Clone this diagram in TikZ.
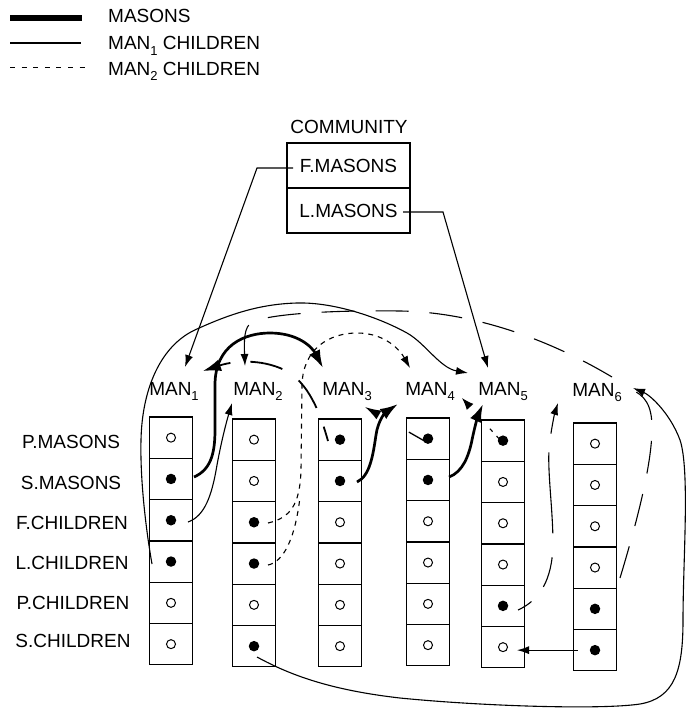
\documentclass[tikz,border=0pt]{standalone}
\usepackage{fontspec}
\setmainfont{Liberation Sans}
\usetikzlibrary{arrows.meta}
\newcommand\subdig[1]{\raisebox{-0.28em}{\fontsize{13}{13}\selectfont #1}}
\begin{document}
\begin{tikzpicture}[x=1pt,y=-1pt,
 lbl/.style={font=\fontsize{19}{22}\selectfont, inner sep=0pt},
 cell/.style={draw, line width=1.2pt, minimum width=43pt, minimum height=41.3pt, inner sep=0pt},
 fdot/.style={circle, fill=black, minimum size=10.5pt, inner sep=0pt},
 odot/.style={circle, draw, line width=1pt, minimum size=9pt, inner sep=0pt},
 cbox/.style={draw, line width=1.2pt, minimum width=123pt, minimum height=45pt, inner sep=0pt, font=\fontsize{19}{22}\selectfont},
 kidA/.style={line width=1.1pt},
 kidB/.style={line width=1.1pt, dash pattern=on 5pt off 5pt},
 mason/.style={line width=2.7pt},
 ldash/.style={line width=1.1pt, dash pattern=on 33pt off 21pt},
 tipS/.style={-{Latex[length=12pt,width=8pt]}},
 tipL/.style={-{Latex[length=18pt,width=12pt]}},
]
\useasboundingbox (0,0) rectangle (686,709);

% legend
\coordinate (lg1a) at (10,18); \coordinate (lg1b) at (82,18);
\coordinate (lg2a) at (10,43); \coordinate (lg2b) at (81,43);
\coordinate (lg3a) at (10,68); \coordinate (lg3b) at (86,68);
\draw[line width=6pt] (lg1a) -- (lg1b);
\draw[kidA] (lg2a) -- (lg2b);
\draw[line width=1pt, dash pattern=on 5pt off 6.6pt] (lg3a) -- (lg3b);
\node[lbl, anchor=base west] (lgt1) at (108,23) {MASONS};
\node[lbl, anchor=base west] (lgt2) at (108,50) {MAN\subdig{1} CHILDREN};
\node[lbl, anchor=base west] (lgt3) at (108,75) {MAN\subdig{2} CHILDREN};

% community
\node[lbl, anchor=base] (comm) at (349,133) {COMMUNITY};
\node[cbox] (fm) at (348.5,165.5) {F.MASONS};
\node[cbox] (lm) at (348.5,210.5) {L.MASONS};

% MAN labels
\node[lbl, anchor=base] (m1) at (174,395) {MAN\subdig{1}};
\node[lbl, anchor=base] (m2) at (258,395) {MAN\subdig{2}};
\node[lbl, anchor=base] (m3) at (347,395) {MAN\subdig{3}};
\node[lbl, anchor=base] (m4) at (430,395) {MAN\subdig{4}};
\node[lbl, anchor=base] (m5) at (503,395) {MAN\subdig{5}};
\node[lbl, anchor=base] (m6) at (597,396) {MAN\subdig{6}};

% row labels
\node[lbl] (rl1) at (71,442) {P.MASONS};
\node[lbl] (rl2) at (71,483) {S.MASONS};
\node[lbl] (rl3) at (72,523) {F.CHILDREN};
\node[lbl] (rl4) at (72,563) {L.CHILDREN};
\node[lbl] (rl5) at (73,603) {P.CHILDREN};
\node[lbl] (rl6) at (73,641) {S.CHILDREN};

% cells
\foreach \c/\x/\tp in {1/171/417,2/254/419,3/340/419,4/428/418,5/503/420,6/595/423}{
  \foreach \r in {1,...,6}{
    \node[cell] (c\c-\r) at (\x,{\tp+20.65+41.3*(\r-1)}) {};
  }
}

% arrow end coordinates
\coordinate (tM1a) at (185,367);
\coordinate (tM1b) at (203,371);
\coordinate (tM2a) at (245,366);
\coordinate (tM2b) at (232,403);
\coordinate (tM3a) at (323,368);
\coordinate (tM3b) at (365,407);
\coordinate (tM4a) at (410,368);
\coordinate (tM4b) at (398,404);
\coordinate (tM4c) at (462,398);
\coordinate (tM5a) at (488,368);
\coordinate (tM5b) at (468,373);
\coordinate (tM5c) at (483,404);
\coordinate (tM6a) at (633,388);
\coordinate (tM6b) at (558,403);
\coordinate (eP) at (630,389);

% start coordinates
\coordinate (fmS) at (293,168); \coordinate (fmK) at (257,168);
\coordinate (lmS) at (403,212); \coordinate (lmK) at (443,212);
\coordinate (sC) at (194,477);
\coordinate (sD) at (328,441);
\coordinate (sE) at (612,377);
\coordinate (sF) at (188,522);
\coordinate (sG) at (152,564);
\coordinate (sH) at (257,657);
\coordinate (sI) at (268,523);
\coordinate (sJ) at (268,565); \coordinate (jJ) at (300,497);
\coordinate (sK) at (357,482);
\coordinate (sL) at (428,443);
\coordinate (sM) at (449,477);
\coordinate (sN) at (502,442);
\coordinate (sO) at (518,610);
\coordinate (sP) at (620,578);

% community links
\draw[kidA, tipS] (fmS) -- (fmK) -- (tM1a);
\draw[kidA, tipS] (lmS) -- (lmK) -- (tM5a);

% masons (thick)
\draw[mason, tipL] (sC) .. controls (210,470) and (215,455) .. (215,430) -- (215,385)
  .. controls (215,345) and (245,333) .. (270,333) .. controls (298,333) and (312,347) .. (tM3a);
\draw[mason, tipL] (sK) .. controls (370,476) and (373,455) .. (376,435) .. controls (378,420) and (386,412) .. (tM4b);
\draw[mason, tipL] (sM) .. controls (463,472) and (469,455) .. (472,440) .. controls (475,425) and (479,413) .. (tM5c);

% long dashed
\draw[line width=1.8pt, dash pattern=on 33pt off 20pt, dash phase=18pt, tipL] (sD) .. controls (318,405) and (305,378) .. (280,368) .. controls (255,358) and (230,362) .. (tM1b);
\draw[ldash, tipS] (sE) .. controls (545,337) and (470,312) .. (400,311) .. controls (330,310) and (270,314) .. (252,322) .. controls (244,327) and (244,340) .. (tM2a);
\draw[line width=1.3pt, dash pattern=on 22pt off 40pt, -{Latex[length=16pt,width=10pt]}] (sL) -- (tM3b);
\draw[line width=1.1pt, dash pattern=on 8pt off 6pt on 4pt off 40pt, -{Latex[length=12pt,width=9pt]}] (sN) -- (tM4c);
\draw[line width=1.1pt, dash pattern=on 16pt off 19pt on 31pt off 24pt on 81pt off 19pt on 80pt off 10pt, tipS] (sO) .. controls (540,600) and (552,580) .. (553,545) .. controls (553,505) and (546,465) .. (550,440) .. controls (552,425) and (555,412) .. (tM6b);
\draw[ldash] (sP) .. controls (636,525) and (652,465) .. (652,428) .. controls (652,405) and (645,395) .. (eP);

% MAN1 children (thin solid)
\draw[kidA, tipS] (sF) .. controls (205,516) and (212,495) .. (217,465) .. controls (222,438) and (227,420) .. (tM2b);
\draw[kidA, tipS] (sG) .. controls (146,530) and (140,480) .. (141,440) .. controls (142,390) and (160,345) .. (197,329)
  .. controls (230,314) and (260,304) .. (297,303) .. controls (335,302) and (380,318) .. (407,333)
  .. controls (425,343) and (440,368) .. (tM5b);
\draw[kidA, tipS] (sH) .. controls (290,675) and (330,690) .. (400,698) .. controls (480,706) and (600,710) .. (640,704)
  .. controls (675,698) and (683,670) .. (683,620) .. controls (683,560) and (690,470) .. (680,440)
  .. controls (670,413) and (650,395) .. (tM6a);

% MAN2 children (dashed)
\draw[kidB, tipS] (sI) .. controls (290,518) and (300,505) .. (301,470) -- (302,385)
  .. controls (303,348) and (330,333) .. (357,333) .. controls (385,333) and (400,350) .. (tM4a);
\draw[kidB] (sJ) .. controls (283,562) and (295,540) .. (jJ);

% dots
\foreach \c/\r in {1/2,1/3,1/4,2/3,2/4,2/6,3/1,3/2,4/1,4/2,5/1,5/5,6/5,6/6}{
  \node[fdot] (d\c-\r) at (c\c-\r) {};
}
\foreach \c/\r in {1/1,1/5,1/6,2/1,2/2,2/5,3/3,3/4,3/5,3/6,4/3,4/4,4/5,4/6,5/2,5/3,5/4,5/6,6/1,6/2,6/3,6/4}{
  \node[odot] (d\c-\r) at (c\c-\r) {};
}

% MAN6 S.CHILDREN -> MAN5 S.CHILDREN
\draw[kidA, tipS, shorten <=12pt, shorten >=9pt] (d6-6.west) -- (d6-6.west -| d5-6.east);
\end{tikzpicture}
\end{document}
